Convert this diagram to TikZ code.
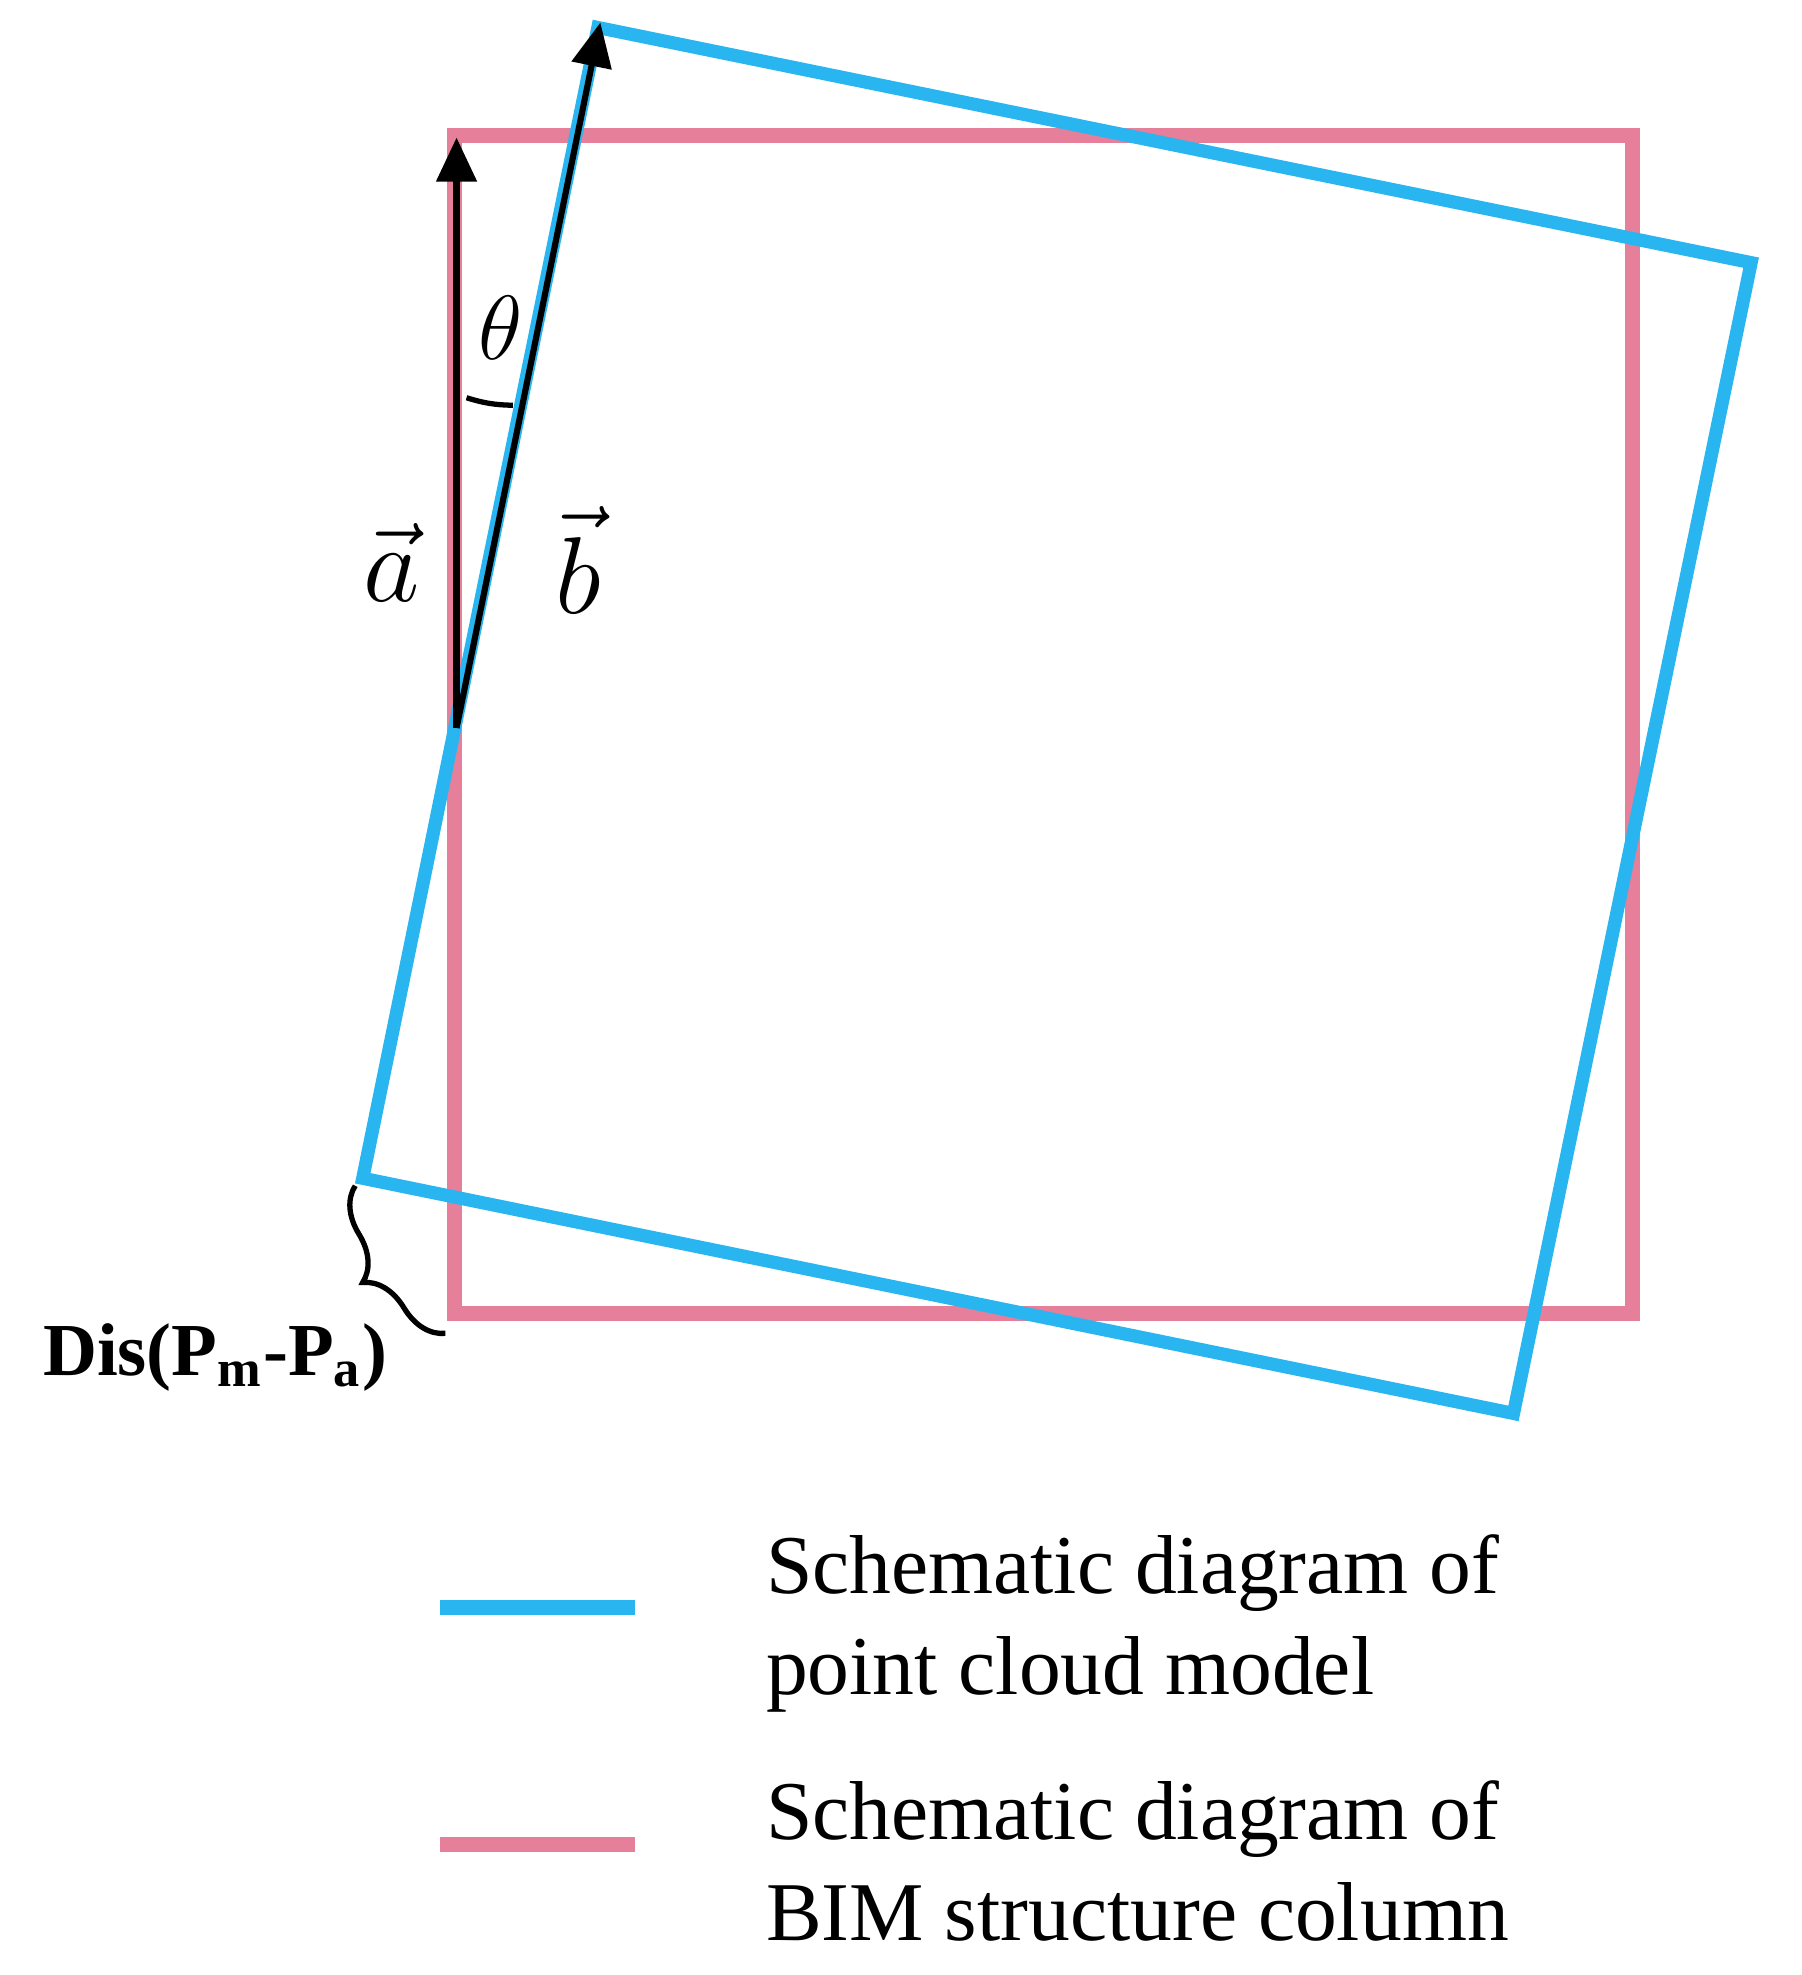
\documentclass[tikz,border=0pt]{standalone}
\usepackage{fontspec}
\setmainfont{Liberation Serif}
\usetikzlibrary{decorations.pathreplacing,arrows.meta}
\definecolor{cblue}{HTML}{29B6F0}
\definecolor{cpink}{HTML}{E57F9A}
\begin{document}
\begin{tikzpicture}[x=0.01cm,y=-0.01cm,
  pinkline/.style={draw=cpink,line width=3.4pt},
  blueline/.style={draw=cblue,line width=3pt,line join=miter},
  vec/.style={draw=black,line width=1.4pt,-{Triangle[length=10pt,width=9pt]}},
  lab/.style={font=\fontsize{19}{23}\selectfont,align=left,anchor=west}]
\useasboundingbox (0,0) rectangle (1440,1579);
\draw[pinkline] (363,108) rectangle (1305,1050);
\coordinate (q1) at (478,22); \coordinate (q2) at (1400,210);
\coordinate (q3) at (1210,1130); \coordinate (q4) at (290,942);
\draw[blueline] (q1) -- (q2) -- (q3) -- (q4) -- cycle;
\coordinate (o) at (365,582);
\coordinate (ta) at (365,110); \coordinate (tb) at (480,18);
\draw[vec] (o) -- (ta);
\draw[vec] (o) -- (tb);
\draw[line width=1.2pt] (373,318) to[bend right=8] (410,324);
\node (th) at (400,262) {\fontsize{22}{22}\selectfont$\theta$};
\node (la) at (313,450) {\fontsize{26}{26}\selectfont$\vec{a}$};
\node (lb) at (462,448) {\fontsize{26}{26}\selectfont$\vec{b}$};
\draw[line width=1.2pt,decorate,decoration={brace,amplitude=10pt,mirror}] (284,948) -- (356,1066);
\node[anchor=west,font=\fontsize{17}{20}\selectfont\bfseries] (dis) at (22,1085) {Dis(P\textsubscript{m}-P\textsubscript{a})};
\draw[draw=cblue,line width=3.4pt] (352,1285) -- (508,1285);
\draw[pinkline] (352,1475) -- (508,1475);
\node[lab] (l1) at (600,1298) {Schematic diagram of\\point cloud model};
\node[lab] (l2) at (600,1488) {Schematic diagram of\\BIM structure column};
\end{tikzpicture}
\end{document}
